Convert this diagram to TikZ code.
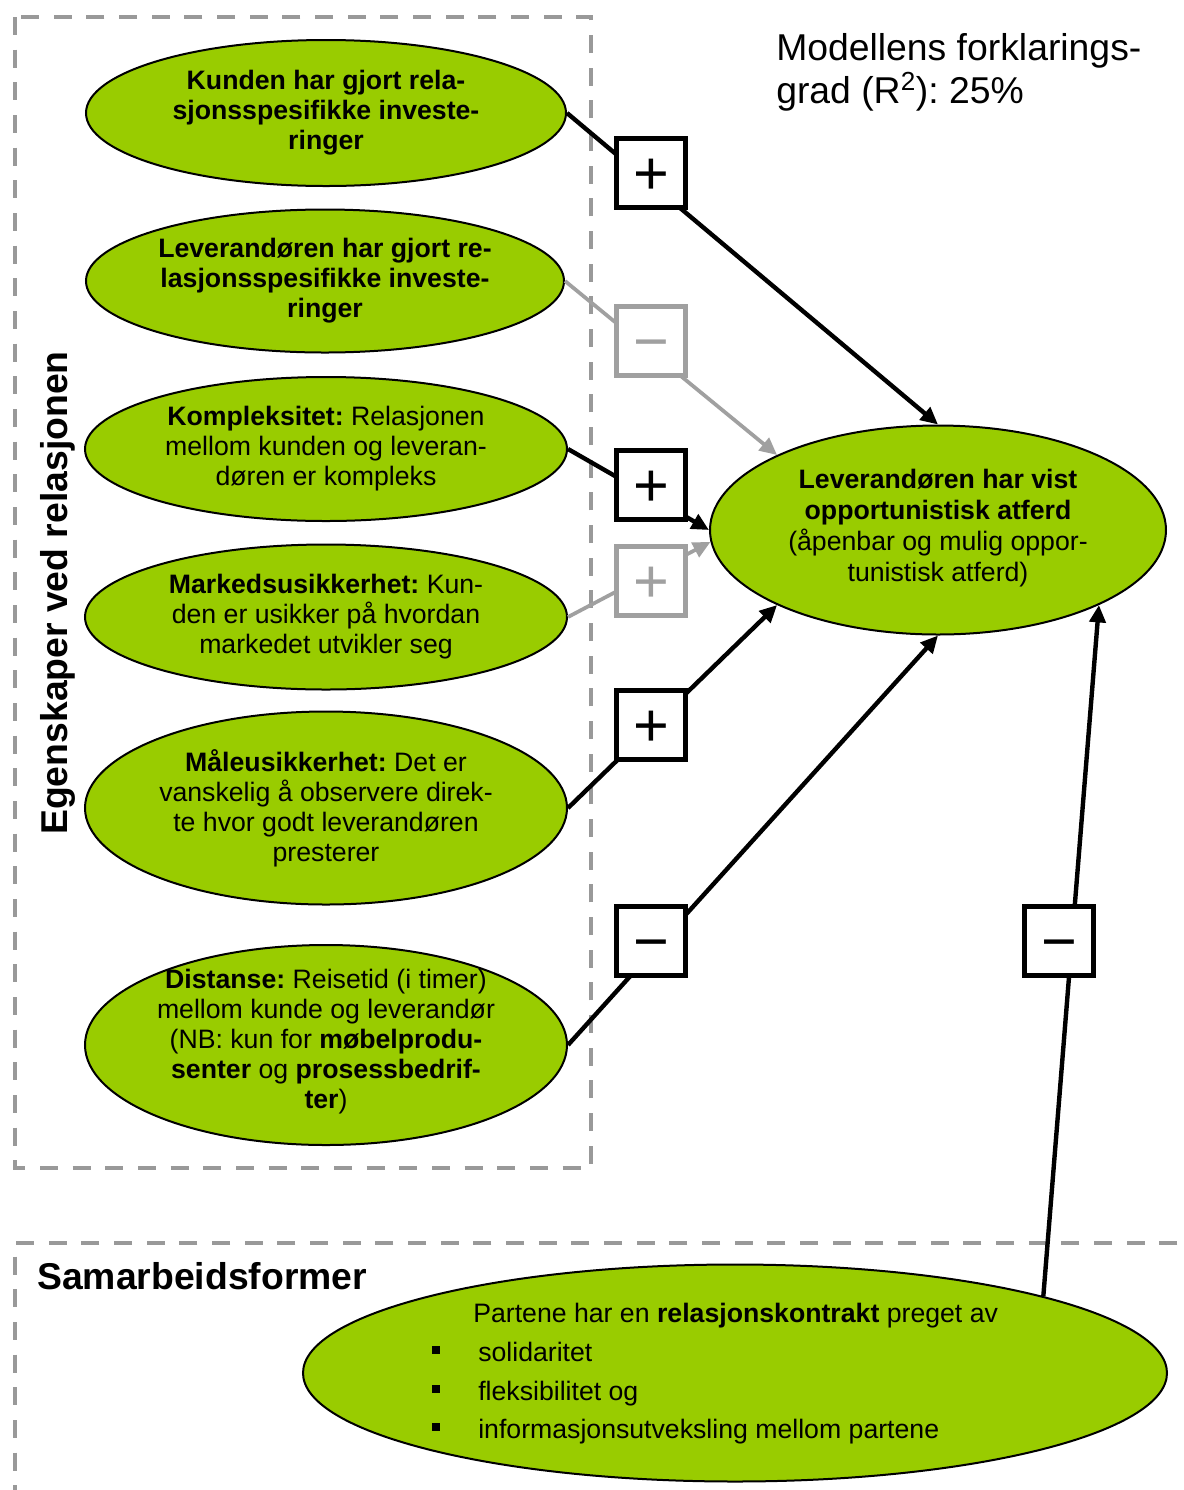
\documentclass[tikz,border=0pt]{standalone}
\usepackage{fontspec}
\setmainfont{Liberation Sans}
\usetikzlibrary{shapes.geometric,arrows.meta}
\definecolor{leaf}{HTML}{99CC00}
\definecolor{frame}{HTML}{999999}
\definecolor{faint}{HTML}{A0A0A0}
\frenchspacing

\begin{document}
\begin{tikzpicture}[x=0.75pt,y=-0.75pt,
  oval/.style={ellipse,draw=black,line width=1.5pt,fill=leaf,inner sep=0pt},
  txt/.style={align=center,inner sep=0pt,font=\fontsize{20}{22.5}\selectfont},
  plain/.style={anchor=base west,inner sep=0pt,font=\fontsize{20}{24}\selectfont},
  head/.style={inner sep=0pt,font=\fontsize{28}{32}\selectfont\bfseries},
  sign/.style={draw=black,line width=3.6pt,fill=white,minimum size=52pt,inner sep=0pt,
    text height=32.5pt,text depth=0pt,font=\fontsize{46}{46}\selectfont},
  weak/.style={sign,draw=faint,text=faint},
  link/.style={line width=3.3pt,draw=black},
  faintlink/.style={line width=2.8pt,draw=faint},
  tip/.style={-{Triangle[length=13pt,width=12pt]}},
  zone/.style={draw=frame,line width=3.6pt,dash pattern=on 13.5pt off 11pt},
  bullet/.style={fill=black,minimum size=6pt,inner sep=0pt}
]
\clip (0,0) rectangle (1184,1490);
\fill[white] (0,0) rectangle (1184,1490);

% dashed group frames
\draw[zone] (15,17) rectangle (591,1168);
\draw[zone] (1210,1243) -- (15,1243) -- (15,1510);

% group headings
\node[head,rotate=90] (side) at (58,593) {Egenskaper ved relasjonen};
\node[head,anchor=base west] (coop) at (37,1289) {Samarbeidsformer};
\node[plain,font=\fontsize{28}{32}\selectfont] (r2a) at (776,60) {Modellens forklarings-};
\node[plain,font=\fontsize{28}{32}\selectfont] (r2b) at (776,103) {grad (R\textsuperscript{2}): 25\%};

% relationship characteristics
\node[oval,minimum width=360pt,minimum height=109.5pt] (e1) at (326,113) {};
\node[oval,minimum width=358.5pt,minimum height=107.25pt] (e2) at (325,281) {};
\node[oval,minimum width=361.5pt,minimum height=108pt] (e3) at (326,449) {};
\node[oval,minimum width=361.5pt,minimum height=108.75pt] (e4) at (326,617) {};
\node[oval,minimum width=361.5pt,minimum height=144.75pt] (e5) at (326,808) {};
\node[oval,minimum width=361.5pt,minimum height=150pt] (e6) at (326,1045) {};

\node[txt] (t1) at (326,113) {\textbf{Kunden har gjort rela-}\\\textbf{sjonsspesifikke investe-}\\\textbf{ringer}};
\node[txt] (t2) at (325,281) {\textbf{Leverandøren har gjort re-}\\\textbf{lasjonsspesifikke investe-}\\\textbf{ringer}};
\node[txt] (t3) at (326,448.5) {\textbf{Kompleksitet:} Relasjonen\\mellom kunden og leveran-\\døren er kompleks};
\node[txt] (t4) at (326,616.5) {\textbf{Markedsusikkerhet:} Kun-\\den er usikker på hvordan\\markedet utvikler seg};
\node[txt] (t5) at (326,808) {\textbf{Måleusikkerhet:} Det er\\vanskelig å observere direk-\\te hvor godt leverandøren\\presterer};
\node[txt] (t6) at (326,1042) {\textbf{Distanse:} Reisetid (i timer)\\mellom kunde og leverandør\\(NB: kun for \textbf{møbelprodu-}\\\textbf{senter} og \textbf{prosessbedrif-}\\\textbf{ter})};

% outcome
\node[oval,minimum width=342pt,minimum height=156.75pt] (t) at (938,530) {};
\node[txt,font=\fontsize{20}{23.25}\selectfont] (tt) at (938,528) {\textbf{Leverandøren har vist}\\\textbf{opportunistisk atferd}\\(åpenbar og mulig oppor-\\tunistisk atferd)};

% relational contract
\node[oval,minimum width=648pt,minimum height=162.75pt] (b) at (735,1373) {};
\node[plain] (b0) at (473,1322) {Partene har en \textbf{relasjonskontrakt} preget av};
\node[bullet] (q1) at (436,1350) {};
\node[bullet] (q2) at (436,1389) {};
\node[bullet] (q3) at (436,1427) {};
\node[plain] (b1) at (478,1361) {solidaritet};
\node[plain] (b2) at (478,1400) {fleksibilitet og};
\node[plain] (b3) at (478,1438) {informasjonsutveksling mellom partene};

% effects
\draw[link,tip] (e1.east) -- (t.north);
\draw[faintlink,tip] (e2.east) -- (t.155);
\draw[link,tip] (e3.east) -- (t.180);
\draw[faintlink,tip] (e4.east) -- (t.183);
\draw[link,tip] (e5.east) -- (t.205);
\draw[link,tip] (e6.east) -- (t.south);
\draw[link,tip] (b.14) -- (t.335);

% signs of the effects
\node[sign] (s1) at (651,173) {+};
\node[weak] (s2) at (651,341) {−};
\node[sign] (s3) at (651,485) {+};
\node[weak] (s4) at (651,581) {+};
\node[sign] (s5) at (651,725) {+};
\node[sign] (s6) at (651,941) {−};
\node[sign] (s7) at (1059,941) {−};
\end{tikzpicture}
\end{document}
